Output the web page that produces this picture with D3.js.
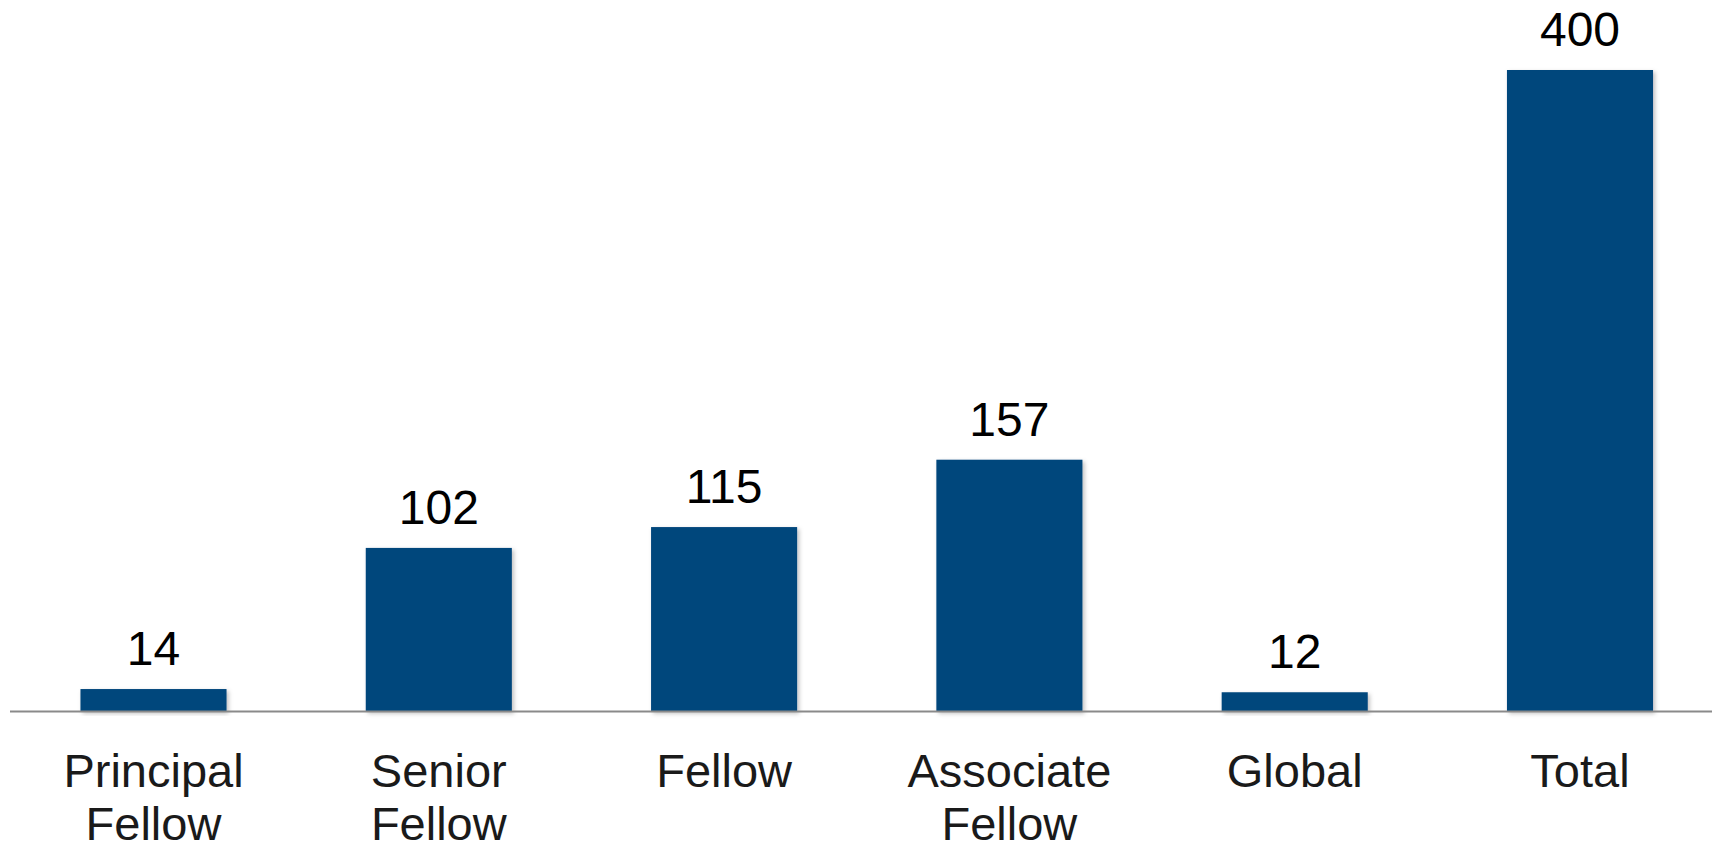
<!DOCTYPE html>
<html>
<head>
<meta charset="utf-8">
<script src="https://cdn.jsdelivr.net/npm/d3@7"></script>
<style>
  html, body { margin: 0; padding: 0; background: #ffffff; }
  svg { display: block; }
</style>
</head>
<body>
<svg id="chart" width="1712" height="844"></svg>
<script>
const categories = ["Principal Fellow", "Senior Fellow", "Fellow", "Associate Fellow", "Global", "Total"];
const values = [14, 102, 115, 157, 12, 400];

const W = 1712, H = 844;
const baseY = 711.5;
const svg = d3.select("#chart");

const defs = svg.append("defs");
const f = defs.append("filter").attr("id", "shadow").attr("x", "-10%").attr("y", "-10%").attr("width", "130%").attr("height", "130%");
f.append("feDropShadow").attr("dx", 2).attr("dy", 2).attr("stdDeviation", 2).attr("flood-color", "#000").attr("flood-opacity", 0.25);

const x = d3.scaleBand().domain(categories).range([10.85, 1722.65]).paddingInner(0.488).paddingOuter(0.244);
const y = d3.scaleLinear().domain([0, 400]).range([baseY, 70]);

const data = categories.map((c, i) => ({ c, v: values[i] }));

svg.selectAll("rect.bar").data(data).enter().append("rect")
  .attr("class", "bar")
  .attr("x", d => x(d.c))
  .attr("y", d => y(d.v))
  .attr("width", x.bandwidth())
  .attr("height", d => baseY - y(d.v))
  .attr("fill", "#02467C")
  .attr("filter", "url(#shadow)");

svg.append("line")
  .attr("x1", 10).attr("x2", W)
  .attr("y1", baseY).attr("y2", baseY)
  .attr("stroke", "#8a8a8a").attr("stroke-width", 2);

svg.selectAll("text.val").data(data).enter().append("text")
  .attr("class", "val")
  .attr("x", d => x(d.c) + x.bandwidth() / 2)
  .attr("y", d => y(d.v) - 24)
  .attr("text-anchor", "middle")
  .attr("font-family", "'Liberation Sans', Arial, sans-serif")
  .attr("font-size", 48)
  .attr("fill", "#000")
  .text(d => d.v);

const lab = svg.selectAll("text.cat").data(data).enter().append("text")
  .attr("class", "cat")
  .attr("x", d => x(d.c) + x.bandwidth() / 2)
  .attr("y", 787)
  .attr("text-anchor", "middle")
  .attr("font-family", "'Liberation Sans', Arial, sans-serif")
  .attr("font-size", 47)
  .attr("fill", "#1a1a1a");

lab.each(function(d) {
  const words = d.c.split(" ");
  const t = d3.select(this);
  words.forEach((w, i) => {
    t.append("tspan")
      .attr("x", x(d.c) + x.bandwidth() / 2)
      .attr("dy", i === 0 ? 0 : 53)
      .text(w);
  });
});
</script>
</body>
</html>
